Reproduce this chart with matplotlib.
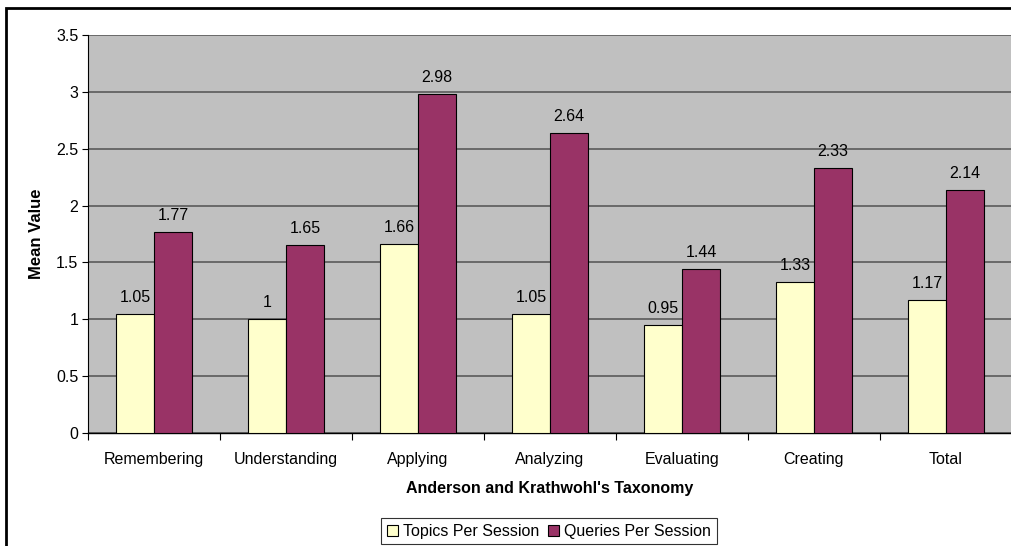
import matplotlib.pyplot as plt
import numpy as np
from matplotlib.patches import Rectangle

plt.rcParams['font.family'] = ['Liberation Sans', 'DejaVu Sans']

categories = ["Remembering", "Understanding", "Applying", "Analyzing",
              "Evaluating", "Creating", "Total"]
topics = [1.05, 1.0, 1.66, 1.05, 0.95, 1.33, 1.17]
queries = [1.77, 1.65, 2.98, 2.64, 1.44, 2.33, 2.14]
topic_labels = ["1.05", "1", "1.66", "1.05", "0.95", "1.33", "1.17"]
query_labels = ["1.77", "1.65", "2.98", "2.64", "1.44", "2.33", "2.14"]

FS = 11.5

fig = plt.figure(figsize=(10.12, 5.46), dpi=100)
ax = fig.add_axes([88 / 1012, 1 - 433 / 546, 1 - 88 / 1012, (433 - 35) / 546])

# outer chart border
fig.patches.append(Rectangle((6 / 1012, -0.01), 1.1, 1 - 8 / 546 + 0.01,
                             transform=fig.transFigure, fill=False,
                             edgecolor="black", linewidth=2))

x = np.arange(len(categories))
w = 0.288
ax.bar(x - w / 2, topics, w, color="#FFFFCC", edgecolor="black", linewidth=0.8,
       label="Topics Per Session", zorder=3)
ax.bar(x + w / 2, queries, w, color="#993366", edgecolor="black", linewidth=0.8,
       label="Queries Per Session", zorder=3)

for xi, v, t in zip(x, topics, topic_labels):
    ax.text(xi - w / 2, v + 0.08, t, ha="center", va="bottom", fontsize=FS)
for xi, v, t in zip(x, queries, query_labels):
    ax.text(xi + w / 2, v + 0.08, t, ha="center", va="bottom", fontsize=FS)

ax.set_facecolor("#C0C0C0")
ax.set_xlim(-0.5, len(categories) - 0.5)
ax.set_ylim(0, 3.5)
ax.set_yticks(np.arange(0, 3.51, 0.5))
ax.set_yticklabels(["0", "0.5", "1", "1.5", "2", "2.5", "3", "3.5"])
ax.yaxis.grid(True, color="#5a5a5a", linewidth=1.2)
ax.set_axisbelow(True)

ax.set_xticks(x)
ax.set_xticklabels(categories)
ax.set_xticks(np.arange(-0.5, len(categories), 1), minor=True)
ax.tick_params(axis="x", which="major", length=0, pad=14, labelsize=FS)
ax.tick_params(axis="x", which="minor", length=5, width=0.8)
ax.tick_params(axis="y", length=4, width=0.8, labelsize=FS, pad=3)

for s in ["top", "right"]:
    ax.spines[s].set_visible(False)
ax.spines["left"].set_linewidth(0.8)
ax.spines["bottom"].set_linewidth(1.0)

ax.set_xlabel("Anderson and Krathwohl's Taxonomy", fontsize=FS, fontweight="bold",
              labelpad=10)
ax.set_ylabel("Mean Value", fontsize=FS + 0.5, fontweight="bold", labelpad=9)

leg = fig.legend(loc="lower center", bbox_to_anchor=(549 / 1012, 0.0), ncol=2,
                 fontsize=FS, frameon=True, fancybox=False, edgecolor="black",
                 handlelength=0.7, handleheight=0.7, handletextpad=0.35,
                 columnspacing=0.5, borderpad=0.35, borderaxespad=0.1)
leg.get_frame().set_linewidth(0.8)

fig.savefig("out.png", dpi=100)
